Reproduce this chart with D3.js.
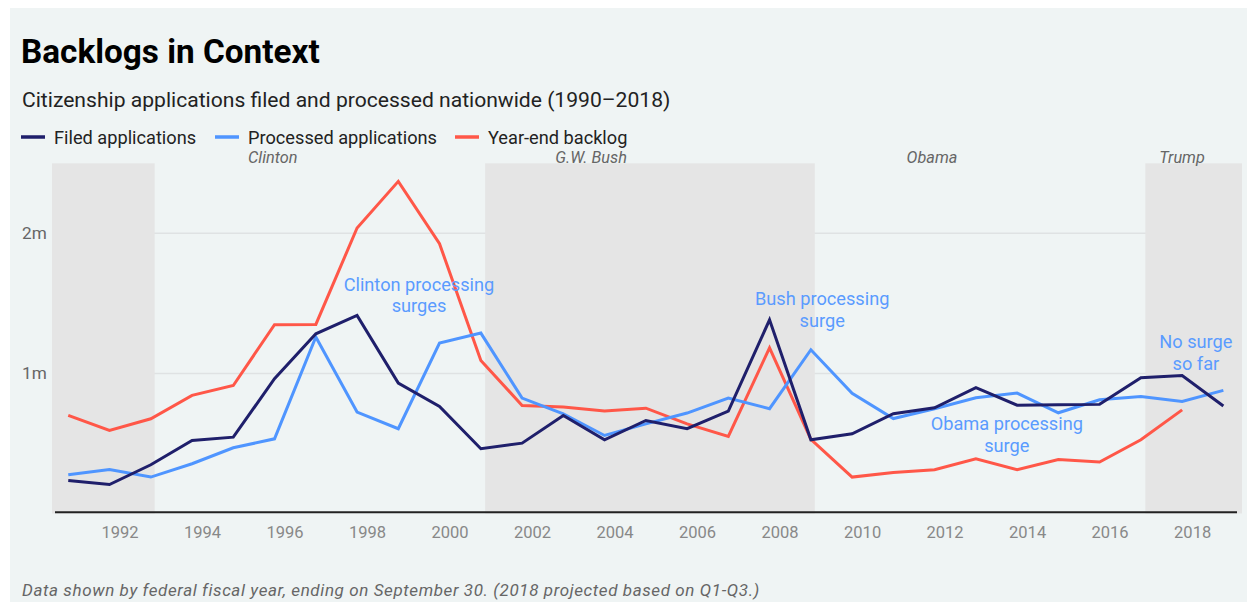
<!DOCTYPE html>
<html>
<head>
<meta charset="utf-8">
<script src="https://cdn.jsdelivr.net/npm/d3@7"></script>
<style>
  html, body { margin: 0; padding: 0; background: #ffffff; }
  svg { display: block; font-family: Roboto, "Noto Sans", sans-serif; }
</style>
</head>
<body>
<svg id="chart" width="1252" height="602"></svg>
<script>
// ---------- DATA ----------
const years = [1990,1991,1992,1993,1994,1995,1996,1997,1998,1999,2000,2001,2002,2003,2004,2005,2006,2007,2008,2009,2010,2011,2012,2013,2014,2015,2016,2017,2018];
// millions
const filedApplications = [0.236,0.207,0.348,0.521,0.545,0.962,1.283,1.414,0.931,0.764,0.462,0.502,0.700,0.526,0.664,0.605,0.731,1.383,0.526,0.569,0.712,0.755,0.898,0.773,0.776,0.779,0.969,0.985,0.767];
const processedApplications = [0.276,0.314,0.260,0.355,0.469,0.533,1.260,0.724,0.605,1.217,1.288,0.824,0.712,0.557,0.640,0.717,0.824,0.748,1.169,0.858,0.678,0.748,0.826,0.860,0.719,0.812,0.836,0.800,0.879];
const yearEndBacklog = [0.700,0.593,0.676,0.843,0.914,1.348,1.350,2.038,2.371,1.926,1.093,0.771,0.760,0.731,0.752,0.640,0.550,1.183,0.530,0.260,0.293,0.312,0.390,0.312,0.385,0.367,0.526,0.740,null];

const seriesNames = ["Filed applications","Processed applications","Year-end backlog"];
const seriesColors = ["#1f1f6b","#4f95ff","#ff5748"];

const xTickYears = [1992,1994,1996,1998,2000,2002,2004,2006,2008,2010,2012,2014,2016,2018];
const yTickValues = [1, 2];
const yTickLabels = ["1m","2m"];

// presidential terms, shaded from election day; null = chart edge
const presidents = ["Clinton","G.W. Bush","Obama","Trump"];
const presidentLabelDates = ["1995-09-15","2003-06-03","2011-09-07","2017-09-29"];
const shadedTerms = [[null,"1992-11-03"],["2000-11-07","2008-11-04"],["2016-11-08",null]];

const annotationLines = [["Clinton processing","surges"],["Bush processing","surge"],["Obama processing","surge"],["No surge","so far"]];
const annotationDates = ["1999-04-01","2009-01-08","2013-07-01","2018-01-30"];
const annotationValues = [1.589, 1.487, 0.596, 1.178];

const title = "Backlogs in Context";
const subtitle = "Citizenship applications filed and processed nationwide (1990\u20132018)";
const footnote = "Data shown by federal fiscal year, ending on September 30. (2018 projected based on Q1-Q3.)";

// ---------- CHART ----------
const svg = d3.select("#chart");
const W = 1252, H = 602;
const parse = d3.timeParse("%Y-%m-%d");
const fyEnd = y => new Date(y, 8, 30);

const domainStart = new Date(1990, 4, 9), domainEnd = new Date(2019, 2, 14);
const x = d3.scaleTime().domain([domainStart, domainEnd]).range([52, 1242]);
const y = d3.scaleLinear().domain([0, 2.5]).range([513.5, 163.3]);

// panel background
svg.append("rect").attr("x", 10).attr("y", 8).attr("width", W - 10 - 5).attr("height", H - 8)
  .attr("fill", "#eff4f4");

// title & subtitle
svg.append("text").attr("x", 21).attr("y", 63).text(title)
  .attr("font-size", 33.3).attr("font-weight", 700).attr("fill", "#000");
svg.append("text").attr("x", 22).attr("y", 107).text(subtitle)
  .attr("font-size", 21.1).attr("fill", "#222");

// legend
const legendX = [21, 215, 455];
const lg = svg.append("g").selectAll("g").data(seriesNames).join("g")
  .attr("transform", (d, i) => `translate(${legendX[i]},0)`);
lg.append("line").attr("x1", 0).attr("x2", 24).attr("y1", 137).attr("y2", 137)
  .attr("stroke", (d, i) => seriesColors[i]).attr("stroke-width", 3.5);
lg.append("text").attr("x", 33).attr("y", 143.5).text(d => d)
  .attr("font-size", 18.2).attr("fill", "#222");

// gridlines
svg.append("g").selectAll("line").data(yTickValues).join("line")
  .attr("x1", 52).attr("x2", 1242).attr("y1", d => y(d)).attr("y2", d => y(d))
  .attr("stroke", "#dfe2e3").attr("stroke-width", 1.5);

// shaded terms
svg.append("g").selectAll("rect").data(shadedTerms).join("rect")
  .attr("x", d => x(d[0] ? parse(d[0]) : domainStart))
  .attr("width", d => x(d[1] ? parse(d[1]) : domainEnd) - x(d[0] ? parse(d[0]) : domainStart))
  .attr("y", y(2.5)).attr("height", y(0) - y(2.5))
  .attr("fill", "#e5e5e5");

// president labels
svg.append("g").selectAll("text").data(presidents).join("text")
  .attr("x", (d, i) => x(parse(presidentLabelDates[i])))
  .attr("y", 163).attr("text-anchor", "middle")
  .attr("font-size", 16.3).attr("font-style", "italic").attr("fill", "#666")
  .text(d => d);

// y labels
svg.append("g").selectAll("text").data(yTickValues).join("text")
  .attr("x", 22).attr("y", d => y(d)).attr("dy", "0.35em")
  .attr("font-size", 17.2).attr("fill", "#666")
  .text((d, i) => yTickLabels[i]);

// x axis baseline
svg.append("line").attr("x1", 55).attr("x2", 1237).attr("y1", 512.3).attr("y2", 512.3)
  .attr("stroke", "#222").attr("stroke-width", 2);

// x tick labels
svg.append("g").selectAll("text").data(xTickYears).join("text")
  .attr("x", d => x(new Date(d, 0, 1))).attr("y", 537.5)
  .attr("text-anchor", "middle").attr("font-size", 16.5).attr("fill", "#888")
  .text(d => d);

// lines
const allSeries = [filedApplications, processedApplications, yearEndBacklog];
const line = d3.line()
  .defined(d => d.v != null)
  .x(d => x(fyEnd(d.year))).y(d => y(d.v));
const drawOrder = [2, 1, 0];
svg.append("g").selectAll("path").data(drawOrder).join("path")
  .attr("d", i => line(years.map((yr, k) => ({ year: yr, v: allSeries[i][k] }))))
  .attr("fill", "none").attr("stroke", i => seriesColors[i])
  .attr("stroke-width", 3).attr("stroke-linejoin", "miter").attr("stroke-linecap", "butt");

// annotations
const ann = svg.append("g").selectAll("text").data(annotationLines).join("text")
  .attr("x", (d, i) => x(parse(annotationDates[i])))
  .attr("y", (d, i) => y(annotationValues[i]))
  .attr("text-anchor", "middle").attr("font-size", 18.2).attr("fill", "#5a9bff");
ann.selectAll("tspan").data(d => d).join("tspan")
  .attr("x", function () { return d3.select(this.parentNode).attr("x"); })
  .attr("dy", (d, j) => j === 0 ? 0 : 21.5)
  .text(d => d);

// footnote
svg.append("text").attr("x", 22).attr("y", 596).text(footnote)
  .attr("font-size", 17).attr("letter-spacing", 0.6).attr("font-style", "italic").attr("fill", "#666");
</script>
</body>
</html>
